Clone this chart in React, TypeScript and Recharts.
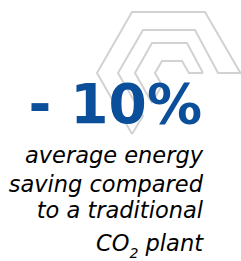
import React from 'react';
import { ComposedChart, Customized } from 'recharts';

const headline = ['- 10%'];
const captionLines = ['average energy', 'saving compared', 'to a traditional'];
const lastLine = { before: 'CO', sub: '2', after: ' plant' };

const W = 241;
const H = 261;
const BLUE = '#0b4e9a';
const GRAY = '#d2d2d2';

const bandPaths = [
  'M 132 134 L 97 73 L 132 12 L 205 12 L 241 74',
  'M 132 134 L 143 116 L 118 73 L 143 30 L 195 30 L 218 73 L 241 73',
  'M 152 103 L 135 73 L 152 43 L 187 43 L 203 73',
  'M 152 103 L 162 85 L 155 73 L 162 61 L 182 61 L 189 73 L 203 73',
];

const captionY = [163, 192, 218];

const Graphic = () => (
  <g>
    {bandPaths.map((d, i) => (
      <path key={i} d={d} fill="none" stroke={GRAY} strokeWidth={2} strokeLinejoin="miter" />
    ))}
    <text
      x={202}
      y={123}
      textAnchor="end"
      fontFamily="DejaVu Sans"
      fontWeight="bold"
      fontSize={55}
      fill={BLUE}
    >
      {headline[0]}
    </text>
    {captionLines.map((t, i) => (
      <text
        key={t}
        x={203}
        y={captionY[i]}
        textAnchor="end"
        fontFamily="DejaVu Sans"
        fontStyle="italic"
        fontSize={22.5}
        fill="#000"
      >
        {t}
      </text>
    ))}
    <text
      x={203}
      y={251}
      textAnchor="end"
      fontFamily="DejaVu Sans"
      fontStyle="italic"
      fontSize={22.5}
      fill="#000"
    >
      {lastLine.before}
      <tspan fontSize={14} dy={7}>{lastLine.sub}</tspan>
      <tspan dy={-7}>{lastLine.after}</tspan>
    </text>
  </g>
);

export default function App() {
  return (
    <div style={{ position: 'fixed', left: 0, top: 0, width: W, height: H, background: '#fff' }}>
      <ComposedChart width={W} height={H} data={[]} margin={{ top: 0, right: 0, bottom: 0, left: 0 }}>
        <Customized component={Graphic} />
      </ComposedChart>
    </div>
  );
}
